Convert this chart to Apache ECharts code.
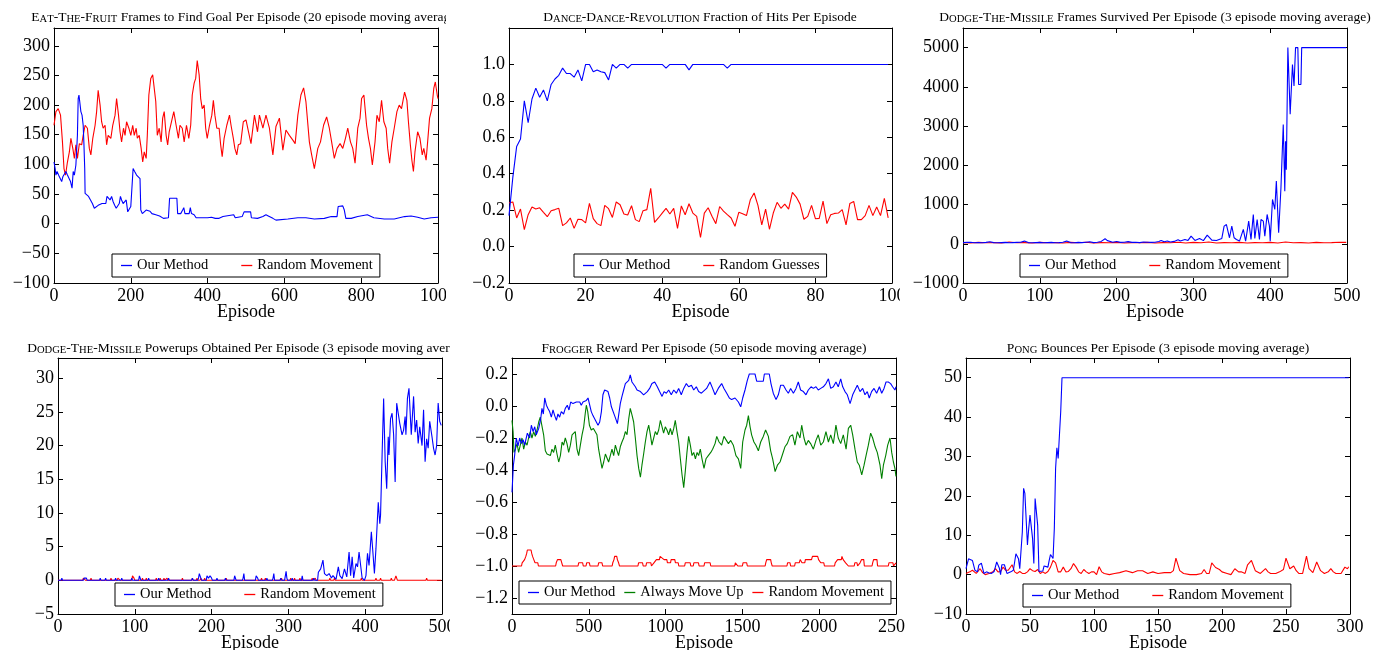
<!DOCTYPE html>
<html><head><meta charset="utf-8">
<script src="https://cdn.jsdelivr.net/npm/echarts@6/dist/echarts.min.js"></script>
<style>
html,body{margin:0;padding:0;background:#fff;width:1380px;height:650px;overflow:hidden;position:relative}
.tile{position:absolute;overflow:hidden;background:#fff}
</style></head><body>
<div id="p1" class="tile" style="left:0;top:0;width:446px;height:325px"></div>
<div id="p2" class="tile" style="left:460px;top:0;width:440px;height:325px"></div>
<div id="p3" class="tile" style="left:903px;top:0;width:477px;height:325px"></div>
<div id="p4" class="tile" style="left:0;top:325px;width:450px;height:325px"></div>
<div id="p5" class="tile" style="left:460px;top:325px;width:445px;height:325px"></div>
<div id="p6" class="tile" style="left:915px;top:325px;width:465px;height:325px"></div>
<script>
// ---------------- DATA ----------------
const titles = [
  ['Eat-The-Fruit', ' Frames to Find Goal Per Episode (20 episode moving average)'],
  ['Dance-Dance-Revolution', ' Fraction of Hits Per Episode'],
  ['Dodge-The-Missile', ' Frames Survived Per Episode (3 episode moving average)'],
  ['Dodge-The-Missile', ' Powerups Obtained Per Episode (3 episode moving average)'],
  ['Frogger', ' Reward Per Episode (50 episode moving average)'],
  ['Pong', ' Bounces Per Episode (3 episode moving average)']
];
const legendNames = [
  ['Our Method', 'Random Movement'],
  ['Our Method', 'Random Guesses'],
  ['Our Method', 'Random Movement'],
  ['Our Method', 'Random Movement'],
  ['Our Method', 'Always Move Up', 'Random Movement'],
  ['Our Method', 'Random Movement']
];

// Panel 1: Eat-The-Fruit
const fruitOurMethod = [[0,104],[3,93],[5,82],[8,88],[11,90],[14,79],[17,82],[20,71],[23,79],[27,82],[31,88],[35,82],[39,82],[43,71],[47,60],[50,88],[53,82],[57,99],[61,149],[63,211],[65,217],[67,206],[70,189],[73,183],[76,166],[78,133],[80,93],[81,51],[85,49],[90,46],[95,43],[100,34],[105,26],[110,28],[115,31],[120,32],[125,34],[130,37],[135,34],[138,46],[142,43],[146,40],[150,46],[154,37],[158,31],[162,26],[166,26],[170,34],[173,46],[176,40],[180,34],[184,37],[188,40],[192,20],[196,23],[200,29],[204,31],[206,93],[210,88],[215,82],[220,79],[224,76],[226,23],[230,17],[235,20],[240,23],[245,20],[250,21],[255,17],[260,20],[265,15],[270,13],[275,13],[280,11],[285,9],[290,9],[298,10],[301,43],[320,43],[322,17],[330,17],[335,23],[338,27],[341,17],[352,17],[355,27],[358,17],[365,15],[370,10],[400,10],[410,11],[420,9],[430,9],[440,12],[445,15],[468,15],[472,10],[490,12],[495,20],[512,20],[514,10],[530,9],[544,12],[552,15],[558,13],[570,9],[578,6],[609,8],[635,10],[656,10],[678,8],[704,9],[722,12],[737,12],[740,29],[743,31],[752,30],[756,23],[760,9],[774,9],[791,12],[816,15],[833,10],[860,8],[886,8],[913,12],[930,13],[947,11],[964,8],[982,10],[1000,11]];
const fruitRandom = [[0,166],[5,189],[11,194],[17,183],[22,138],[26,93],[30,82],[35,104],[40,121],[44,144],[49,127],[53,110],[57,133],[61,110],[66,135],[72,133],[76,149],[81,166],[87,161],[92,127],[96,116],[101,144],[107,166],[111,189],[115,225],[120,200],[124,172],[128,161],[133,166],[137,133],[141,149],[148,144],[153,166],[159,183],[163,211],[168,183],[172,155],[176,138],[181,161],[185,149],[189,172],[195,161],[200,149],[205,166],[209,149],[214,161],[217,144],[222,149],[227,127],[231,104],[235,121],[240,110],[243,149],[247,217],[252,245],[257,251],[260,253],[265,206],[269,149],[274,161],[279,138],[283,178],[287,189],[292,149],[296,133],[300,155],[306,172],[312,189],[318,166],[324,144],[328,166],[334,161],[339,138],[345,166],[351,144],[356,166],[360,217],[365,237],[369,245],[373,275],[378,251],[382,211],[386,194],[391,200],[395,161],[399,144],[405,166],[411,183],[415,208],[419,183],[424,161],[430,161],[434,133],[438,113],[443,144],[450,166],[457,183],[461,166],[467,144],[471,127],[476,116],[480,133],[486,135],[493,172],[500,175],[505,172],[513,135],[522,183],[530,155],[535,183],[544,161],[552,183],[561,161],[570,116],[578,164],[587,178],[596,124],[604,158],[613,149],[622,141],[628,135],[635,183],[643,217],[650,229],[656,206],[665,138],[671,116],[678,93],[682,90],[687,127],[694,138],[702,166],[710,180],[717,161],[723,138],[730,110],[737,127],[745,135],[752,127],[759,144],[765,161],[772,138],[778,127],[784,102],[791,161],[797,178],[801,211],[807,217],[814,166],[819,144],[824,127],[829,99],[836,138],[841,183],[847,172],[853,208],[859,172],[865,161],[869,127],[874,102],[880,138],[886,161],[893,189],[899,200],[905,194],[913,222],[919,208],[923,172],[928,133],[932,107],[936,88],[940,121],[947,155],[953,144],[959,116],[963,127],[969,107],[973,138],[978,178],[984,194],[989,228],[993,239],[998,217],[1000,211]];

// Panel 2: Dance-Dance-Revolution (one value per episode 0..99)
const ddrOurMethod = [0.17,0.38,0.55,0.59,0.80,0.68,0.81,0.87,0.82,0.86,0.80,0.89,0.92,0.94,0.98,0.95,0.95,0.93,0.97,0.91,1.0,1.0,0.96,0.97,0.96,0.955,0.915,1.0,0.98,1.0,1.0,0.98,1.0,1.0,1.0,1.0,1.0,1.0,1.0,1.0,1.0,0.98,1.0,1.0,1.0,1.0,1.0,0.97,1.0,1.0,1.0,1.0,1.0,1.0,1.0,1.0,1.0,0.98,1.0,1.0,1.0,1.0,1.0,1.0,1.0,1.0,1.0,1.0,1.0,1.0,1.0,1.0,1.0,1.0,1.0,1.0,1.0,1.0,1.0,1.0,1.0,1.0,1.0,1.0,1.0,1.0,1.0,1.0,1.0,1.0,1.0,1.0,1.0,1.0,1.0,1.0,1.0,1.0,1.0,1.0];
const ddrRandom = [0.24,0.245,0.157,0.206,0.093,0.175,0.217,0.206,0.213,0.188,0.164,0.197,0.203,0.21,0.115,0.13,0.157,0.10,0.15,0.148,0.13,0.237,0.153,0.126,0.115,0.226,0.208,0.16,0.245,0.23,0.179,0.173,0.224,0.148,0.137,0.197,0.203,0.32,0.133,0.157,0.184,0.21,0.179,0.21,0.10,0.223,0.175,0.235,0.184,0.166,0.05,0.184,0.213,0.166,0.126,0.22,0.195,0.175,0.157,0.111,0.188,0.18,0.17,0.257,0.294,0.226,0.119,0.206,0.095,0.184,0.243,0.21,0.233,0.206,0.297,0.272,0.233,0.15,0.166,0.226,0.153,0.155,0.25,0.126,0.175,0.182,0.184,0.203,0.119,0.237,0.248,0.148,0.148,0.17,0.226,0.17,0.217,0.17,0.265,0.157];

// Panel 3: Dodge-The-Missile frames survived
const dodgeFramesOur = [[0,30],[5,35],[10,40],[15,25],[20,30],[25,25],[30,35],[35,50],[40,30],[45,25],[50,30],[55,35],[60,25],[65,30],[70,35],[75,40],[80,68],[85,30],[90,25],[95,30],[100,35],[105,25],[110,30],[115,35],[120,25],[125,30],[130,40],[135,68],[140,30],[145,25],[150,35],[155,30],[160,40],[165,50],[170,30],[175,40],[180,60],[185,127],[188,80],[190,50],[195,40],[200,60],[205,35],[210,40],[215,55],[220,35],[225,40],[230,30],[235,45],[240,40],[245,35],[250,40],[255,60],[258,85],[262,50],[266,70],[270,45],[275,60],[280,100],[283,68],[289,110],[293,85],[297,195],[302,85],[308,136],[313,80],[318,220],[324,93],[330,85],[337,136],[340,450],[343,490],[347,153],[350,450],[353,153],[356,110],[360,68],[365,365],[368,68],[372,577],[375,110],[378,747],[380,136],[383,620],[386,110],[388,620],[391,577],[393,195],[396,747],[399,450],[400,68],[402,20],[403,1130],[406,875],[408,1600],[411,280],[414,1430],[417,3040],[419,1340],[420,2615],[421,1890],[423,5000],[426,3300],[429,4570],[431,4020],[433,5000],[436,5000],[437,4060],[440,4060],[441,5000],[499,5000]];
const dodgeFramesRandom = [[0,30],[10,20],[20,35],[30,25],[40,30],[50,20],[60,45],[70,25],[80,30],[90,20],[100,35],[110,25],[120,30],[130,20],[140,35],[150,25],[160,40],[170,20],[180,30],[190,25],[200,35],[210,20],[220,30],[230,25],[240,35],[250,20],[260,30],[270,25],[280,40],[290,20],[300,35],[310,25],[320,45],[330,20],[340,30],[350,25],[360,35],[370,20],[380,30],[390,25],[400,35],[410,20],[420,45],[430,25],[440,30],[450,20],[460,35],[470,25],[480,30],[490,40],[499,35]];

// Panel 4: Dodge-The-Missile powerups
const dodgePowerOur = [[0,0],[4,0],[5,0.33],[6,0],[33,0],[34,0.33],[37,0.33],[38,0],[54,0],[55,0.33],[56,0],[61,0],[62,0.33],[63,0],[74,0],[75,0.33],[76,0],[82,0],[83,0.33],[84,0],[95,0],[96,0.33],[97,0],[105,0],[106,0.67],[107,0.33],[108,0],[117,0],[118,0.33],[119,0],[130,0],[131,0.33],[132,0],[143,0],[144,0.33],[145,0],[174,0],[175,0.33],[176,0],[182,0],[183,0.33],[184,1.0],[186,0.33],[187,0],[193,0],[194,0.67],[196,0.33],[198,0.67],[200,0.33],[201,0],[206,0],[207,0.33],[208,0],[217,0],[218,0.33],[219,0],[229,0],[230,0.67],[232,0],[240,0],[241,0.33],[242,1.0],[243,0],[257,0],[258,0.67],[260,0.33],[261,0],[271,0],[272,0.33],[273,0],[279,0],[280,0.33],[281,1.0],[282,0],[289,0],[290,0.33],[291,0],[295,0],[296,0.67],[297,1.33],[298,0.33],[299,0],[304,0],[305,0.33],[306,0],[317,0],[318,0.67],[319,0],[332,0],[333,0.33],[334,0],[338,0],[339,1.2],[342,1.7],[345,3.0],[347,1.0],[350,0.7],[353,1.0],[356,0.35],[358,0.7],[362,0.15],[365,2.0],[367,0.7],[370,0.25],[373,1.7],[376,0.5],[379,4.2],[381,0.7],[383,3.5],[385,0.35],[388,2.5],[390,2.0],[392,4.2],[393,4.0],[396,0.35],[399,0],[401,0.7],[403,4.0],[405,2.2],[408,7.2],[410,4.2],[412,1.0],[414,4.7],[417,11.6],[419,8.4],[420,9.7],[422,18.6],[424,27],[426,17.6],[428,13.6],[430,21.3],[431,18.6],[433,24],[435,24.8],[437,21.6],[439,14.6],[441,26.3],[443,26.3],[445,23.3],[448,21.6],[450,22.3],[452,24.3],[453,21.6],[455,27],[457,28.5],[459,23.8],[460,21.6],[463,27.3],[465,22],[467,23.8],[469,20.3],[471,22.8],[474,20],[476,25.3],[478,17.6],[480,21],[482,19.6],[484,23.6],[487,21.3],[489,19.6],[491,18.6],[493,20],[495,26.3],[497,23.6],[499,23]];
const dodgePowerRandom = [[0,0],[32,0],[33,0.33],[35,0.33],[36,0],[42,0],[43,0.33],[44,0],[68,0],[69,0.33],[70,0],[77,0],[78,0.33],[80,0.33],[81,0],[96,0],[97,0.67],[99,0.33],[100,0],[109,0],[110,0.33],[111,0],[114,0],[115,0.33],[116,0],[127,0],[128,0.33],[129,0],[132,0],[133,0.33],[134,0],[137,0],[138,0.33],[139,0],[141,0],[142,0.33],[143,0],[161,0],[162,0.33],[163,0],[174,0],[175,0.33],[176,0],[180,0],[181,0.33],[182,0],[185,0],[186,0.33],[187,0],[190,0],[191,0.33],[192,0],[218,0],[219,0.33],[220,0],[264,0],[265,0.33],[266,0],[269,0],[270,0.33],[271,0],[290,0],[291,0.33],[292,0],[302,0],[303,0.33],[304,0],[307,0],[308,0.33],[309,0],[314,0],[315,0.33],[316,0],[330,0],[331,0.33],[332,0],[334,0],[335,0.33],[336,0],[353,0],[354,0.33],[355,0],[359,0],[360,0.33],[361,0],[394,0],[395,0.33],[396,0],[413,0],[414,0.33],[415,0],[419,0],[420,0.33],[421,0],[433,0],[434,0.33],[435,0],[438,0],[439,0.33],[440,0.67],[441,0.33],[442,0],[479,0],[480,0.33],[481,0],[499,0]];

// Panel 5: Frogger
const froggerOur = [[0,-0.54],[9,-0.37],[17,-0.31],[28,-0.20],[39,-0.25],[50,-0.20],[61,-0.235],[72,-0.21],[82,-0.245],[100,-0.17],[115,-0.20],[126,-0.12],[137,-0.16],[148,-0.13],[158,-0.18],[174,-0.14],[187,-0.08],[195,-0.015],[204,-0.05],[213,0.05],[224,0.005],[234,-0.015],[245,-0.035],[256,-0.07],[267,-0.025],[278,-0.06],[289,-0.09],[299,-0.05],[310,-0.07],[321,-0.035],[336,-0.05],[347,-0.015],[360,0.005],[371,-0.025],[382,0.025],[397,0.015],[408,0.005],[419,0.025],[430,0.015],[441,0.025],[451,0.005],[462,0.025],[473,0.015],[484,0.035],[495,0.05],[506,0.005],[516,-0.035],[527,-0.06],[538,-0.06],[549,-0.10],[560,-0.12],[571,-0.10],[582,-0.035],[592,0.07],[603,0.10],[614,0.10],[625,0.09],[636,0.05],[647,-0.005],[658,-0.015],[668,-0.06],[679,-0.09],[686,-0.11],[694,-0.06],[705,0.015],[716,0.06],[727,0.10],[738,0.14],[749,0.15],[760,0.16],[770,0.195],[781,0.15],[792,0.14],[803,0.12],[814,0.10],[825,0.11],[836,0.09],[846,0.10],[857,0.07],[868,0.08],[881,0.09],[896,0.11],[911,0.14],[929,0.15],[946,0.12],[961,0.09],[977,0.06],[990,0.09],[1005,0.08],[1020,0.10],[1037,0.07],[1053,0.10],[1070,0.08],[1085,0.11],[1102,0.07],[1118,0.11],[1135,0.14],[1150,0.12],[1168,0.13],[1183,0.10],[1200,0.12],[1215,0.09],[1233,0.08],[1245,0.08],[1267,0.11],[1289,0.15],[1306,0.11],[1322,0.07],[1343,0.11],[1365,0.14],[1380,0.11],[1398,0.08],[1415,0.05],[1430,0.04],[1452,0.05],[1474,0.025],[1489,-0.005],[1502,0.05],[1517,0.10],[1532,0.16],[1545,0.20],[1582,0.20],[1593,0.155],[1636,0.155],[1643,0.20],[1675,0.20],[1686,0.14],[1701,0.08],[1719,0.04],[1734,0.07],[1749,0.13],[1767,0.13],[1784,0.10],[1799,0.08],[1814,0.11],[1832,0.08],[1849,0.11],[1864,0.15],[1879,0.10],[1897,0.09],[1914,0.07],[1929,0.10],[1947,0.12],[1962,0.11],[1979,0.12],[1994,0.10],[2010,0.11],[2027,0.12],[2044,0.14],[2060,0.17],[2075,0.11],[2092,0.12],[2109,0.15],[2124,0.12],[2140,0.17],[2153,0.12],[2168,0.09],[2183,0.07],[2201,0.015],[2218,0.07],[2233,0.10],[2248,0.13],[2266,0.09],[2283,0.11],[2298,0.07],[2313,0.09],[2326,0.05],[2341,0.09],[2357,0.11],[2374,0.08],[2392,0.12],[2407,0.08],[2422,0.11],[2435,0.15],[2450,0.15],[2465,0.14],[2478,0.12],[2493,0.10],[2500,0.12]];
const froggerUp = [[0,-0.09],[7,-0.16],[13,-0.29],[22,-0.27],[33,-0.235],[43,-0.29],[54,-0.245],[65,-0.20],[76,-0.27],[87,-0.225],[98,-0.245],[108,-0.20],[119,-0.16],[130,-0.20],[141,-0.16],[152,-0.19],[163,-0.15],[174,-0.10],[184,-0.07],[195,-0.08],[206,-0.18],[217,-0.28],[228,-0.30],[239,-0.29],[250,-0.31],[260,-0.27],[271,-0.29],[282,-0.245],[293,-0.30],[304,-0.35],[315,-0.31],[326,-0.225],[336,-0.245],[347,-0.20],[358,-0.235],[369,-0.29],[380,-0.245],[391,-0.18],[401,-0.18],[412,-0.16],[423,-0.27],[434,-0.31],[445,-0.245],[456,-0.18],[467,-0.13],[477,-0.045],[484,0.005],[493,-0.035],[504,-0.12],[516,-0.15],[530,-0.14],[543,-0.14],[553,-0.18],[564,-0.27],[575,-0.33],[586,-0.39],[597,-0.35],[608,-0.30],[618,-0.31],[629,-0.35],[640,-0.31],[651,-0.27],[662,-0.31],[673,-0.245],[684,-0.28],[694,-0.31],[705,-0.255],[716,-0.225],[727,-0.20],[738,-0.16],[749,-0.18],[760,-0.08],[770,-0.015],[781,-0.055],[792,-0.10],[803,-0.20],[814,-0.31],[825,-0.39],[836,-0.445],[846,-0.37],[857,-0.30],[868,-0.225],[879,-0.16],[890,-0.12],[901,-0.18],[911,-0.245],[922,-0.235],[933,-0.16],[944,-0.18],[955,-0.15],[966,-0.09],[977,-0.13],[987,-0.17],[998,-0.13],[1009,-0.15],[1020,-0.18],[1031,-0.14],[1042,-0.18],[1053,-0.14],[1063,-0.09],[1074,-0.16],[1085,-0.225],[1096,-0.33],[1107,-0.43],[1118,-0.51],[1128,-0.41],[1139,-0.29],[1150,-0.19],[1161,-0.245],[1172,-0.31],[1183,-0.29],[1194,-0.33],[1205,-0.29],[1215,-0.31],[1226,-0.27],[1237,-0.33],[1250,-0.39],[1263,-0.33],[1278,-0.31],[1294,-0.29],[1306,-0.27],[1322,-0.235],[1333,-0.19],[1348,-0.225],[1365,-0.245],[1380,-0.19],[1393,-0.18],[1409,-0.235],[1424,-0.215],[1441,-0.245],[1458,-0.31],[1474,-0.33],[1489,-0.39],[1502,-0.225],[1517,-0.15],[1528,-0.12],[1539,-0.06],[1550,-0.13],[1560,-0.18],[1575,-0.225],[1588,-0.245],[1604,-0.28],[1619,-0.225],[1636,-0.19],[1651,-0.15],[1669,-0.19],[1684,-0.28],[1697,-0.33],[1713,-0.41],[1728,-0.37],[1745,-0.35],[1762,-0.30],[1777,-0.255],[1792,-0.235],[1810,-0.19],[1827,-0.18],[1842,-0.245],[1858,-0.16],[1875,-0.20],[1886,-0.12],[1901,-0.20],[1914,-0.245],[1929,-0.215],[1944,-0.235],[1962,-0.27],[1979,-0.215],[1994,-0.18],[2010,-0.245],[2027,-0.225],[2044,-0.16],[2060,-0.225],[2075,-0.18],[2092,-0.235],[2109,-0.12],[2124,-0.20],[2140,-0.235],[2157,-0.18],[2175,-0.27],[2190,-0.14],[2205,-0.12],[2218,-0.18],[2233,-0.27],[2248,-0.35],[2261,-0.37],[2277,-0.43],[2292,-0.37],[2305,-0.31],[2320,-0.245],[2335,-0.17],[2348,-0.20],[2364,-0.255],[2378,-0.29],[2396,-0.37],[2407,-0.455],[2418,-0.37],[2433,-0.31],[2446,-0.245],[2461,-0.20],[2472,-0.29],[2483,-0.35],[2493,-0.39],[2500,-0.44]];
const froggerRandom = [[0,-1],[62,-1],[66,-0.98],[82,-0.96],[90,-0.94],[96,-0.92],[100,-0.90],[124,-0.90],[128,-0.92],[134,-0.94],[142,-0.96],[150,-0.98],[168,-0.98],[172,-1],[284,-1],[288,-0.98],[296,-0.96],[318,-0.96],[324,-0.98],[330,-1],[430,-1],[434,-0.98],[460,-0.98],[464,-1],[482,-1],[486,-0.98],[504,-0.98],[508,-1],[560,-1],[564,-0.98],[586,-0.98],[590,-1],[652,-1],[656,-0.98],[664,-0.96],[668,-0.94],[682,-0.94],[686,-0.96],[694,-0.98],[700,-1],[820,-1],[824,-0.98],[850,-0.98],[854,-1],[872,-1],[876,-0.98],[904,-0.98],[908,-1],[920,-1],[924,-0.98],[940,-0.96],[960,-0.96],[964,-0.94],[970,-0.93],[974,-0.94],[990,-0.96],[1008,-0.96],[1012,-0.98],[1032,-0.98],[1036,-0.96],[1060,-0.96],[1064,-0.98],[1082,-0.98],[1086,-1],[1124,-1],[1128,-0.98],[1160,-0.98],[1164,-1],[1180,-1],[1184,-0.98],[1214,-0.98],[1218,-1],[1250,-1],[1254,-0.98],[1290,-0.98],[1294,-1],[1450,-1],[1454,-0.98],[1466,-0.98],[1470,-1],[1500,-1],[1504,-0.98],[1528,-0.98],[1532,-1],[1648,-1],[1652,-0.98],[1658,-0.96],[1684,-0.96],[1688,-0.98],[1694,-1],[1790,-1],[1794,-0.98],[1810,-0.98],[1814,-1],[1840,-1],[1844,-0.98],[1870,-0.98],[1876,-0.96],[1888,-0.98],[1906,-0.98],[1910,-0.96],[1950,-0.96],[1956,-0.94],[1966,-0.93],[1972,-0.94],[1990,-0.94],[1996,-0.96],[2010,-0.98],[2030,-0.98],[2034,-1],[2100,-1],[2104,-0.98],[2120,-0.96],[2144,-0.96],[2148,-0.94],[2156,-0.96],[2172,-0.98],[2190,-1],[2228,-1],[2232,-0.98],[2246,-0.98],[2250,-1],[2262,-1],[2266,-0.98],[2276,-0.96],[2290,-0.96],[2294,-1],[2344,-1],[2348,-0.98],[2354,-0.96],[2376,-0.96],[2380,-1],[2450,-1],[2454,-0.98],[2480,-0.98],[2484,-1],[2500,-0.98]];

// Panel 6: Pong
const pongOur = [[0,1.5],[2,4.0],[3,4.2],[5,3.6],[7,1.1],[9,0.7],[10,2.4],[12,2.9],[14,0.3],[16,0.7],[18,0.4],[20,0.3],[22,0.8],[24,3.2],[26,1.7],[27,0],[28,2.5],[30,2.5],[32,0.3],[33,0.7],[35,0.7],[37,1.1],[39,5.3],[41,4.0],[42,1.5],[44,10.8],[45,21.9],[46,20.6],[48,7.5],[49,11.7],[50,15.1],[51,15.1],[52,9.2],[53,2.8],[54,19.3],[55,18.9],[56,12.5],[57,0.8],[58,0.8],[60,0.9],[61,2.2],[62,1.7],[64,1.9],[65,3.6],[66,5.1],[67,5.3],[68,4.1],[69,11.7],[70,27],[71,32.2],[72,29.5],[73,29.7],[74,41.4],[75,50],[299,50]];
const pongRandom = [[0,0.3],[3,0.7],[5,1.1],[8,0.3],[11,1.5],[13,0.5],[15,0],[18,0.3],[21,0.7],[23,1.5],[25,0.7],[27,0.8],[29,1.9],[31,1.1],[33,1.1],[36,2.5],[38,0.7],[40,0.3],[42,0.8],[44,0.3],[46,0.3],[48,0.7],[50,1.5],[52,1.0],[54,0.8],[56,1.3],[58,0.3],[60,0.7],[62,0.3],[64,0.8],[66,1.9],[68,3.6],[70,3.0],[72,0.7],[74,0.7],[76,1.9],[78,0.7],[80,0.8],[82,1.5],[84,2.8],[86,1.9],[88,0.7],[90,0.3],[92,1.3],[94,0.7],[96,0.3],[98,0.7],[100,0.7],[102,0],[104,2.0],[106,0.7],[108,0.3],[112,0],[116,0.3],[120,0.5],[125,1.0],[130,0.5],[134,1.0],[138,1.0],[142,0.3],[146,0.7],[150,0.3],[155,0.5],[160,0.5],[162,1.0],[164,4.2],[167,1.0],[170,0.3],[175,0],[180,0],[184,0.3],[186,1.3],[188,0.3],[190,0.3],[192,3.0],[195,1.8],[198,1.3],[200,0.7],[204,0.3],[207,0],[210,1.5],[213,0.7],[215,0.7],[218,0.3],[220,2.5],[223,3.6],[226,1.0],[230,0.3],[234,1.5],[236,0.7],[238,0.3],[242,0.3],[245,0.7],[248,1.3],[250,4.2],[253,1.5],[256,2.2],[258,1.0],[260,0.3],[263,0.3],[266,4.7],[268,1.5],[271,0.5],[274,3.2],[277,1.0],[280,0.3],[283,0.7],[285,1.5],[287,0.7],[289,0.3],[293,0.3],[296,1.9],[298,1.5],[299,2.0]];

// ---------------- RENDERING ----------------
const FONT = '"Liberation Serif","Times New Roman",serif';
const BLUE = '#0000ff', RED = '#ff0000', GREEN = '#008000';

function smallCaps(word) {
  let out = '';
  for (const ch of word) {
    if (ch >= 'a' && ch <= 'z') out += '{s|' + ch.toUpperCase() + '}';
    else out += '{c|' + ch + '}';
  }
  return out;
}
function minusFmt(v) { return String(v).replace('-', '\u2212'); }

function makePanel(id, cfg) {
  const chart = echarts.init(document.getElementById(id), null, {renderer: 'canvas'});
  const tick = {show: true, inside: true, length: 5, lineStyle: {color: '#000', width: 1}};
  const line = {show: true, onZero: false, lineStyle: {color: '#000', width: 1}};
  const lab = {fontFamily: FONT, fontSize: 18, color: '#000'};
  const xBase = {type: 'value', min: cfg.x[0], max: cfg.x[1], interval: cfg.x[2],
    axisLine: line, axisTick: tick, splitLine: {show: false}};
  const yBase = {type: 'value', min: cfg.y[0], max: cfg.y[1],
    axisLine: line, splitLine: {show: false},
    axisTick: Object.assign({customValues: cfg.yTicks}, tick)};
  const yFmt = cfg.yDec ? (v => minusFmt(v.toFixed(cfg.yDec))) : (v => minusFmt(Math.round(v)));
  const t = titles[cfg.idx];
  const names = legendNames[cfg.idx];
  const option = {
    animation: false,
    backgroundColor: '#fff',
    title: {
      text: smallCaps(t[0]) + '{c|' + t[1] + '}',
      left: cfg.titleX, top: cfg.titleY, padding: 0,
      textAlign: 'center', textVerticalAlign: 'middle',
      textStyle: {fontWeight: 'normal', rich: {
        c: {fontFamily: FONT, fontSize: 13.5, fontWeight: 'normal', color: '#000', verticalAlign: 'bottom', lineHeight: 15},
        s: {fontFamily: FONT, fontSize: 10.6, fontWeight: 'normal', color: '#000', verticalAlign: 'bottom', lineHeight: 12.5}
      }}
    },
    grid: Object.assign({containLabel: false, outerBoundsMode: 'none'}, cfg.grid),
    legend: {
      left: cfg.legend[0], top: cfg.legend[1], orient: 'horizontal',
      padding: [4, 7, 4, 9], itemGap: cfg.legendGap, itemWidth: 11, itemHeight: 1.3,
      backgroundColor: '#fff', borderColor: '#000', borderWidth: 1, borderRadius: 0,
      textStyle: {fontFamily: FONT, fontSize: 14.5, color: '#000', lineHeight: 14},
      icon: 'rect', selectedMode: false,
      data: names.map((n, i) => ({name: n, itemStyle: {color: cfg.colors[i]}}))
    },
    xAxis: [
      Object.assign({position: 'bottom', name: 'Episode', nameLocation: 'middle', nameGap: 20,
        nameMoveOverlap: false,
        nameTextStyle: {fontFamily: FONT, fontSize: 18, color: '#000', verticalAlign: 'top'},
        axisLabel: Object.assign({margin: 4, formatter: minusFmt}, lab)}, xBase),
      Object.assign({position: 'top', axisLabel: {show: false}}, xBase)
    ],
    yAxis: [
      Object.assign({position: 'left',
        axisLabel: Object.assign({margin: 4, customValues: cfg.yTicks, formatter: yFmt}, lab)}, yBase),
      Object.assign({position: 'right', axisLabel: {show: false}}, yBase)
    ],
    series: cfg.series.map((d, i) => ({
      name: names[i], type: 'line', data: d, symbol: 'none', showSymbol: false,
      xAxisIndex: 0, yAxisIndex: 0, clip: true, z: 3 + (cfg.series.length - i),
      color: cfg.colors[i],
      lineStyle: {color: cfg.colors[i], width: 1.1},
      emphasis: {disabled: true}
    }))
  };
  chart.setOption(option);
}

makePanel('p1', {idx: 0, grid: {left: 54, top: 28, width: 384, height: 255},
  x: [0, 1000, 200], y: [-100, 330], yTicks: [-100, -50, 0, 50, 100, 150, 200, 250, 300],
  titleX: 246, titleY: 17, legend: [112, 254], legendGap: 33,
  colors: [BLUE, RED], series: [fruitOurMethod, fruitRandom]});

makePanel('p2', {idx: 1, grid: {left: 49, top: 28, width: 383, height: 255},
  x: [0, 100, 20], y: [-0.2, 1.2], yDec: 1, yTicks: [-0.2, 0, 0.2, 0.4, 0.6, 0.8, 1.0],
  titleX: 240, titleY: 17, legend: [114, 254], legendGap: 33,
  colors: [BLUE, RED], series: [ddrOurMethod.map((v, i) => [i, v]), ddrRandom.map((v, i) => [i, v])]});

makePanel('p3', {idx: 2, grid: {left: 60, top: 28, width: 384, height: 255},
  x: [0, 500, 100], y: [-1000, 5500], yTicks: [-1000, 0, 1000, 2000, 3000, 4000, 5000],
  titleX: 252, titleY: 17, legend: [117, 254], legendGap: 33,
  colors: [BLUE, RED], series: [dodgeFramesOur, dodgeFramesRandom]});

makePanel('p4', {idx: 3, grid: {left: 58, top: 33, width: 384, height: 256},
  x: [0, 500, 100], y: [-5, 33], yTicks: [-5, 0, 5, 10, 15, 20, 25, 30],
  titleX: 250, titleY: 23, legend: [115, 258], legendGap: 33,
  colors: [BLUE, RED], series: [dodgePowerOur, dodgePowerRandom]});

makePanel('p5', {idx: 4, grid: {left: 52, top: 33, width: 384, height: 256},
  x: [0, 2500, 500], y: [-1.3, 0.3], yDec: 1, yTicks: [-1.2, -1.0, -0.8, -0.6, -0.4, -0.2, 0, 0.2],
  titleX: 244, titleY: 23, legend: [59, 256], legendGap: 9,
  colors: [BLUE, GREEN, RED], series: [froggerOur, froggerUp, froggerRandom]});

makePanel('p6', {idx: 5, grid: {left: 51, top: 33, width: 384, height: 256},
  x: [0, 300, 50], y: [-10, 55], yTicks: [-10, 0, 10, 20, 30, 40, 50],
  titleX: 243, titleY: 23, legend: [108, 259], legendGap: 33,
  colors: [BLUE, RED], series: [pongOur, pongRandom]});
</script>
</body></html>
